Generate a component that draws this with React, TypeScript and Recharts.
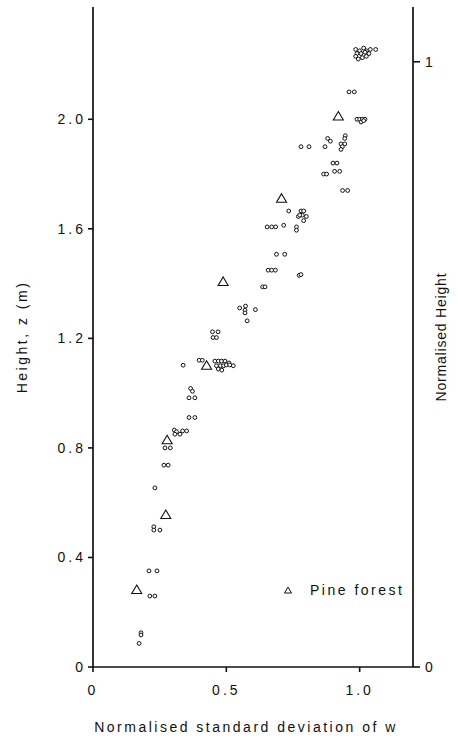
import React from 'react';
import { ScatterChart, Scatter, XAxis, YAxis, Legend, Label } from 'recharts';

// Observations (circles): normalised std dev of w, height z (m)
const siteStdW = [
  0.985, 1.0, 1.015, 1.025, 1.04, 1.06, 0.99, 1.005, 1.02, 1.035, 0.985, 0.995, 1.01, 1.025,
  0.96, 0.98,
  0.99, 1.0, 1.01, 1.02, 1.005, 1.015,
  0.78, 0.81,
  0.88, 0.89, 0.87,
  0.946, 0.944, 0.93, 0.944, 0.935, 0.93,
  0.9, 0.915,
  0.865, 0.876,
  0.906, 0.925,
  0.936, 0.955,
  0.734,
  0.78, 0.79, 0.77, 0.785, 0.8, 0.79, 0.775,
  0.653, 0.67, 0.685,
  0.715,
  0.763, 0.763,
  0.688, 0.719,
  0.657, 0.67, 0.684,
  0.773, 0.78,
  0.636, 0.645,
  0.55, 0.572, 0.57, 0.57, 0.609,
  0.578,
  0.448, 0.469, 0.45, 0.463,
  0.338,
  0.398, 0.41,
  0.457, 0.47, 0.482, 0.495, 0.51, 0.526, 0.463, 0.478, 0.49, 0.47, 0.483, 0.5, 0.513,
  0.366, 0.373,
  0.36, 0.382,
  0.36, 0.382,
  0.305, 0.313, 0.326, 0.336, 0.351, 0.307,
  0.27, 0.29,
  0.266, 0.282,
  0.232,
  0.228, 0.228, 0.251,
  0.21, 0.24,
  0.213, 0.232,
  0.18, 0.18,
  0.173,
];
const siteHeight = [
  2.255, 2.25, 2.26, 2.25, 2.255, 2.255, 2.24, 2.24, 2.245, 2.24, 2.23, 2.22, 2.225, 2.23,
  2.1, 2.1,
  2.0, 2.0, 2.0, 2.0, 1.99, 1.995,
  1.9, 1.9,
  1.93, 1.92, 1.9,
  1.94, 1.93, 1.91, 1.91, 1.9, 1.89,
  1.84, 1.84,
  1.8, 1.8,
  1.81, 1.81,
  1.74, 1.74,
  1.665,
  1.665, 1.665, 1.645, 1.65, 1.645, 1.63, 1.65,
  1.607, 1.607, 1.607,
  1.613,
  1.607, 1.595,
  1.507, 1.507,
  1.449, 1.449, 1.449,
  1.43, 1.433,
  1.388, 1.388,
  1.311, 1.318, 1.303, 1.293, 1.305,
  1.264,
  1.224, 1.224, 1.203, 1.203,
  1.102,
  1.12, 1.12,
  1.117, 1.117, 1.117, 1.117, 1.11, 1.1, 1.1, 1.1, 1.1, 1.088, 1.084, 1.103, 1.103,
  1.017, 1.007,
  0.983, 0.983,
  0.911, 0.911,
  0.865, 0.859, 0.85, 0.862, 0.862, 0.85,
  0.8, 0.8,
  0.737, 0.737,
  0.654,
  0.512, 0.5, 0.5,
  0.351, 0.351,
  0.259, 0.259,
  0.125, 0.117,
  0.086,
];

// Pine forest (triangles)
const pineStdW = [0.92, 0.707, 0.488, 0.426, 0.278, 0.273, 0.164];
const pineHeight = [2.01, 1.71, 1.406, 1.1, 0.828, 0.555, 0.281];

const xTicks = [0, 0.5, 1.0];
const yTicks = [0, 0.4, 0.8, 1.2, 1.6, 2.0];
const rightTicks = [0, 1];
const topTicks = [1.0];

const xDomain = [0, 1.2];
const zDomain = [0, 2.41];
const canopyTop = 2.21; // height corresponding to normalised height 1

const legendLabel = 'Pine forest';
const xTitle = 'Normalised standard deviation of w';
const yTitle = 'Height, z (m)';
const rightTitle = 'Normalised Height';

const siteData = siteStdW.map((x, i) => ({ x, z: siteHeight[i] }));
const pineData = pineStdW.map((x, i) => ({ x, z: pineHeight[i] }));

const FONT = '"Liberation Sans", Arial, Helvetica, sans-serif';
const INK = '#111';

const CircleMark = (p: any) => (
  <circle cx={p.cx} cy={p.cy} r={1.9} fill="#fff" stroke={INK} strokeWidth={1} />
);
const TriMark = (p: any) => (
  <path
    d={`M${p.cx},${p.cy - 5} L${p.cx + 5},${p.cy + 3.5} L${p.cx - 5},${p.cy + 3.5} Z`}
    fill="none"
    stroke={INK}
    strokeWidth={1.1}
  />
);

const tickStyle = { fill: INK, fontSize: 14, fontFamily: FONT, letterSpacing: 3 };
const titleStyle = { fill: INK, fontSize: 14, fontFamily: FONT, letterSpacing: 2.5, textAnchor: 'middle' as const };
const rightTitleStyle = { ...titleStyle, letterSpacing: 0.8 };

const fmtX = (v: number) => (v === 0 ? '0' : v.toFixed(1));
const fmtY = (v: number) => (v === 0 ? '0' : v.toFixed(1));

const LegendContent = () => (
  <div style={{ display: 'flex', alignItems: 'center', fontFamily: FONT, fontSize: 14, letterSpacing: 2.5, color: INK }}>
    <svg width={8} height={8} style={{ display: 'block' }}>
      <path d="M4,1 L7.5,7 L0.5,7 Z" fill="none" stroke={INK} strokeWidth={1} />
    </svg>
    <span style={{ marginLeft: 18 }}>{legendLabel}</span>
  </div>
);

export default function App() {
  return (
    <div style={{ position: 'absolute', left: 0, top: 0, background: '#fff' }}>
      <ScatterChart width={458} height={744} margin={{ top: 7, right: 0, bottom: 0, left: 0 }}>
        <XAxis
          xAxisId="bottom"
          type="number"
          dataKey="x"
          domain={xDomain}
          ticks={xTicks}
          tickFormatter={fmtX}
          height={77}
          axisLine={{ stroke: INK, strokeWidth: 1.7 }}
          tickLine={{ stroke: INK, strokeWidth: 1.6 }}
          tickSize={5}
          tickMargin={13}
          tick={tickStyle}
          allowDataOverflow
        >
          <Label value={xTitle} position="insideBottom" offset={12} dx={-7} style={titleStyle} />
        </XAxis>
        <XAxis
          xAxisId="top"
          orientation="top"
          type="number"
          domain={xDomain}
          ticks={topTicks}
          height={0}
          mirror
          axisLine={{ stroke: INK, strokeWidth: 1.7 }}
          tickLine={{ stroke: INK, strokeWidth: 1.6 }}
          tickSize={6}
          tick={() => <g />}
          allowDataOverflow
        />
        <YAxis
          yAxisId="left"
          type="number"
          dataKey="z"
          domain={zDomain}
          ticks={yTicks}
          tickFormatter={fmtY}
          width={93}
          axisLine={{ stroke: INK, strokeWidth: 1.7 }}
          tickLine={{ stroke: INK, strokeWidth: 1.6 }}
          tickSize={5}
          tickMargin={2}
          tick={tickStyle}
          allowDataOverflow
        >
          <Label value={yTitle} angle={-90} position="insideLeft" offset={22} style={titleStyle} />
        </YAxis>
        <YAxis
          yAxisId="right"
          orientation="right"
          type="number"
          domain={[0, zDomain[1] / canopyTop]}
          ticks={rightTicks}
          tickFormatter={(v: number) => String(v)}
          width={45}
          axisLine={{ stroke: INK, strokeWidth: 1.7 }}
          tickLine={{ stroke: INK, strokeWidth: 1.6 }}
          tickSize={7}
          tickMargin={5}
          tick={tickStyle}
          allowDataOverflow
        >
          <Label value={rightTitle} angle={-90} position="insideRight" offset={17} style={rightTitleStyle} />
        </YAxis>
        <Legend
          layout="horizontal"
          verticalAlign="middle"
          align="center"
          content={LegendContent}
          wrapperStyle={{ position: 'absolute', left: 284, top: 582, width: 'auto' }}
        />
        <Scatter
          name="Observations"
          data={siteData}
          xAxisId="bottom"
          yAxisId="left"
          shape={CircleMark}
          isAnimationActive={false}
          legendType="none"
        />
        <Scatter
          name={legendLabel}
          data={pineData}
          xAxisId="bottom"
          yAxisId="left"
          shape={TriMark}
          isAnimationActive={false}
          legendType="triangle"
        />
      </ScatterChart>
    </div>
  );
}
